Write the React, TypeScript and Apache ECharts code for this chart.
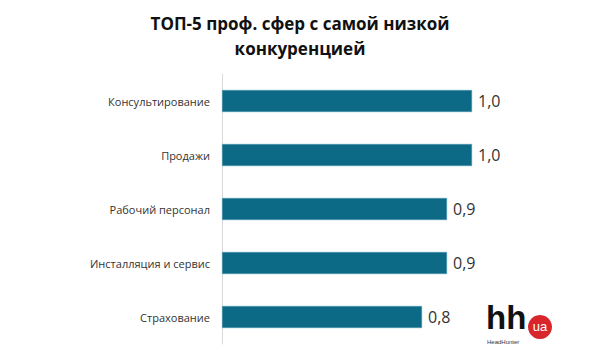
import React, { useEffect, useRef } from "react";
import * as echarts from "echarts";

const categories = [
  "Консультирование",
  "Продажи",
  "Рабочий персонал",
  "Инсталляция и сервис",
  "Страхование",
];
const values = [1.0, 1.0, 0.9, 0.9, 0.8];
const titleText = "ТОП-5 проф. сфер с самой низкой\nконкуренцией";

export default function App() {
  const ref = useRef<HTMLDivElement>(null);
  useEffect(() => {
    if (!ref.current) return;
    const chart = echarts.init(ref.current, null, { renderer: "svg" });
    chart.setOption({
      animation: false,
      backgroundColor: "#ffffff",
      title: {
        text: titleText,
        left: "center",
        top: 6,
        textStyle: {
          fontFamily: "Open Sans",
          fontWeight: "bold",
          fontSize: 17,
          lineHeight: 25,
          color: "#111111",
        },
      },
      grid: { left: 222, right: 128, top: 74, bottom: 11, containLabel: false },
      xAxis: {
        type: "value",
        min: 0,
        max: 1,
        show: false,
      },
      yAxis: {
        type: "category",
        data: categories,
        inverse: true,
        axisLine: { show: true, lineStyle: { color: "#d9d9d9", width: 1 } },
        axisTick: { show: false },
        axisLabel: {
          fontFamily: "Open Sans",
          fontSize: 11,
          color: "#333333",
          margin: 12,
        },
      },
      series: [
        {
          type: "bar",
          data: values,
          barWidth: 22,
          itemStyle: { color: "#0d6a86", borderColor: "#4e9db4", borderWidth: 0.5 },
          label: {
            show: true,
            position: "right",
            distance: 6,
            fontFamily: "Open Sans",
            fontSize: 16,
            color: "#333333",
            formatter: (p: any) => p.value.toFixed(1).replace(".", ","),
          },
        },
      ],
      graphic: [
        {
          type: "text",
          left: 486,
          top: 301,
          style: {
            text: "hh",
            fontFamily: "Liberation Sans",
            fontWeight: "bold",
            fontSize: 33,
            fill: "#111111",
          },
        },
        {
          type: "circle",
          shape: { cx: 540, cy: 327, r: 12 },
          style: { fill: "#d8262c" },
        },
        {
          type: "text",
          x: 540,
          y: 326,
          style: {
            text: "ua",
            fontFamily: "Liberation Sans",
            fontSize: 13,
            fill: "#ffffff",
            align: "center",
            verticalAlign: "middle",
          },
        },
        {
          type: "text",
          left: 487,
          top: 339,
          style: {
            text: "HeadHunter",
            fontFamily: "Liberation Sans",
            fontSize: 6,
            fill: "#333333",
          },
        },
      ],
    });
    return () => chart.dispose();
  }, []);
  return <div ref={ref} style={{ width: 600, height: 355, margin: -8 }} />;
}
